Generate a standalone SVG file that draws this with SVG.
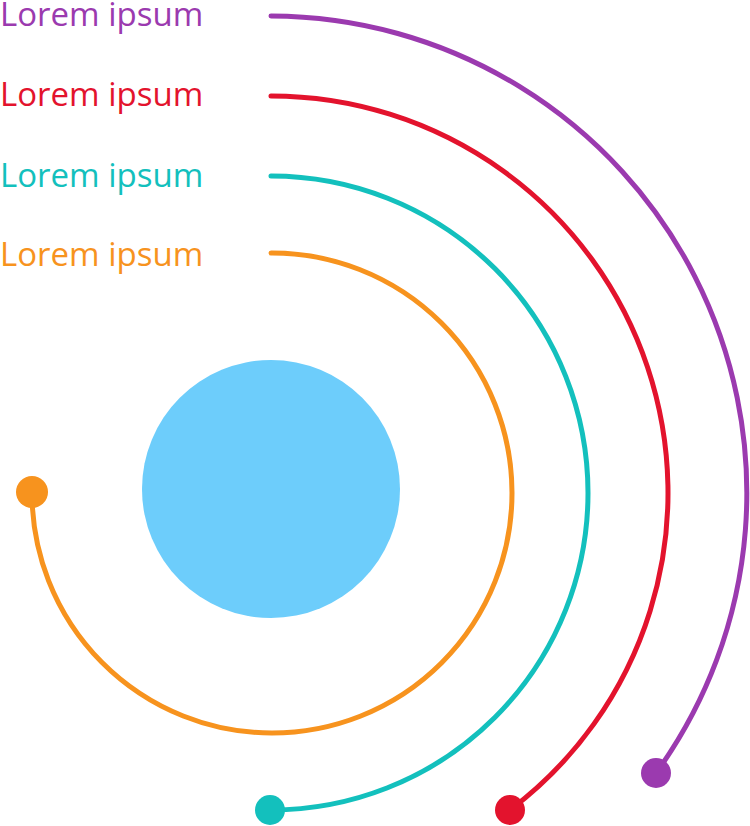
<svg xmlns="http://www.w3.org/2000/svg" width="750" height="826" viewBox="0 0 750 826">
<style>
.lbl{font-family:"Open Sans","Liberation Sans",sans-serif;font-size:33px}
.arc{fill:none;stroke-width:5;stroke-linecap:round}
</style>
<rect width="750" height="826" fill="#ffffff"/>
<g id="center-circle"><circle cx="271" cy="489" r="129" fill="#6dcdfb"/></g>
<g id="connectors">
<path class="arc" stroke="#f7931e" d="M271,253 A240,240 0 1 1 32,492"/>
<path class="arc" stroke="#13c0bd" d="M271,176 A317,317 0 0 1 588,493 A317,317 0 0 1 270,810"/>
<path class="arc" stroke="#e3132d" d="M271,96 A397,397 0 0 1 510,810"/>
<path class="arc" stroke="#9b3aaf" d="M271,16 A477,477 0 0 1 656,773"/>
</g>
<g id="node-purple"><text class="lbl" x="0" y="26" fill="#9b3aaf">Lorem ipsum</text><circle cx="656" cy="773" r="15" fill="#9b3aaf"/></g>
<g id="node-red"><text class="lbl" x="0" y="106" fill="#e3132d">Lorem ipsum</text><circle cx="510" cy="810" r="15" fill="#e3132d"/></g>
<g id="node-teal"><text class="lbl" x="0" y="187" fill="#13c0bd">Lorem ipsum</text><circle cx="270" cy="810" r="15" fill="#13c0bd"/></g>
<g id="node-orange"><text class="lbl" x="0" y="266" fill="#f7931e">Lorem ipsum</text><circle cx="32" cy="492" r="16" fill="#f7931e"/></g>
</svg>
